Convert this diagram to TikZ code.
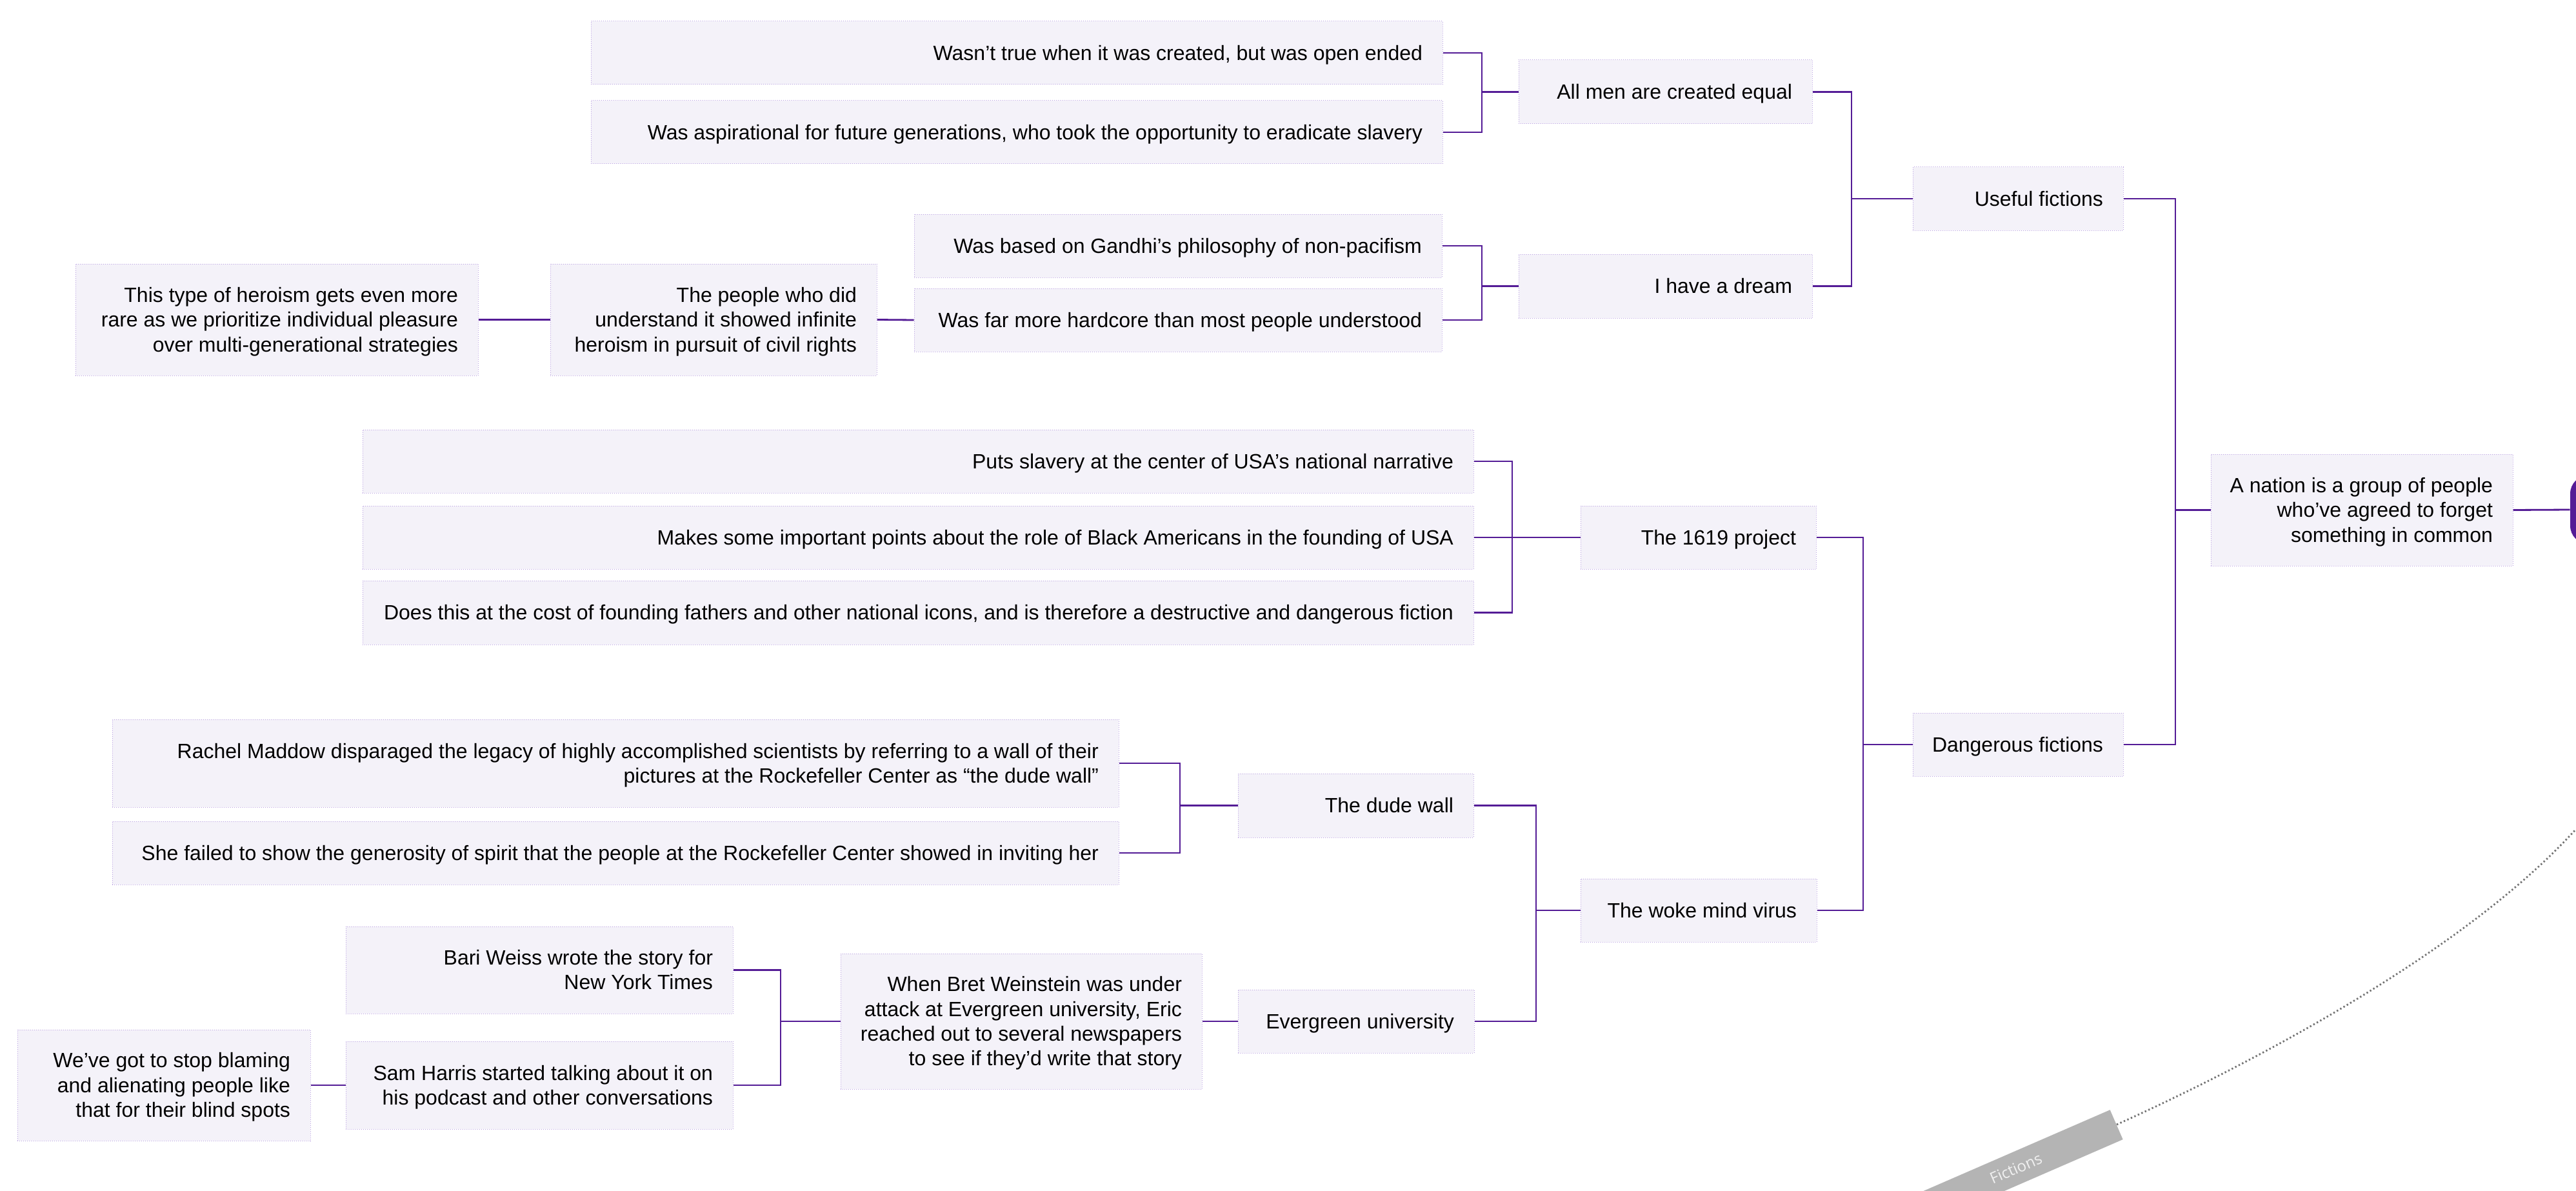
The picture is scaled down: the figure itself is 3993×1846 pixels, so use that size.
\documentclass[tikz,border=0pt]{standalone}
\usepackage{fontspec}
\setmainfont{Liberation Sans}
\newfontfamily\ficfont{Open Sans}
\usetikzlibrary{calc}
\definecolor{purp}{RGB}{84,28,150}
\definecolor{boxfill}{RGB}{244,242,249}
\definecolor{boxline}{RGB}{185,160,225}
\definecolor{dotgray}{RGB}{115,115,115}
\definecolor{bargray}{RGB}{180,180,180}
\tikzset{
  bx/.style={draw=boxline, densely dotted, line width=0.5pt, fill=boxfill, inner sep=0pt,
    font=\fontsize{16pt}{19.2pt}\selectfont, text=black},
  conn/.style={draw=purp, line width=1.4pt},
  dotline/.style={draw=dotgray, line width=1.4pt, dash pattern=on 1.2pt off 1.8pt},
}
\newcommand\bxnode[6]{%
  \pgfmathsetmacro\bw{(#4-#2)*0.5}%
  \pgfmathsetmacro\bh{(#5-#3)*0.5}%
  \pgfmathsetmacro\tw{(#4-#2-62)*0.5}%
  \node[bx, minimum width=\bw pt, minimum height=\bh pt] (#1) at ({(#2+#4)/2},{(#3+#5)/2})
    {\makebox[\tw pt][r]{\raisebox{-1.8pt}[\height][\depth]{\begin{tabular}{@{}r@{}}#6\end{tabular}}}};%
}
\begin{document}
\begin{tikzpicture}[x=0.5pt,y=-0.5pt]
\useasboundingbox (0,0) rectangle (3993,1846);
\fill[white] (0,0) rectangle (3993,1846);
\clip (0,0) rectangle (3993,1846);

% central topic (mostly off canvas)
\node[fill=purp, rounded corners=14pt, minimum width=116pt, minimum height=53pt, inner sep=0pt] (central) at (4100,790) {};

% boxes
\bxnode{wasnt}{916}{33}{2236}{131}{Wasn’t true when it was created, but was open ended}
\bxnode{aspir}{916}{156}{2236}{254}{Was aspirational for future generations, who took the opportunity to eradicate slavery}
\bxnode{allmen}{2354}{93}{2809}{192}{All men are created equal}
\bxnode{gandhi}{1417}{332}{2235}{430}{Was based on Gandhi’s philosophy of non-pacifism}
\bxnode{hardcore}{1417}{447}{2235}{545}{Was far more hardcore than most people understood}
\bxnode{dream}{2354}{394}{2809}{493}{I have a dream}
\bxnode{people}{853}{409}{1359}{582}{The people who did\\understand it showed infinite\\heroism in pursuit of civil rights}
\bxnode{thistype}{117}{409}{741}{582}{This type of heroism gets even more\\rare as we prioritize individual pleasure\\over multi-generational strategies}
\bxnode{useful}{2965}{259}{3291}{357}{Useful fictions}
\bxnode{nation}{3427}{704}{3895}{877}{A nation is a group of people\\who’ve agreed to forget\\something in common}
\bxnode{puts}{562}{666}{2284}{764}{Puts slavery at the center of USA’s national narrative}
\bxnode{makes}{562}{784}{2284}{882}{Makes some important points about the role of Black Americans in the founding of USA}
\bxnode{does}{562}{900}{2284}{999}{Does this at the cost of founding fathers and other national icons, and is therefore a destructive and dangerous fiction}
\bxnode{p1619}{2450}{784}{2815}{882}{The 1619 project}
\bxnode{danger}{2965}{1105}{3291}{1203}{Dangerous fictions}
\bxnode{rachel}{174}{1115}{1734}{1251}{Rachel Maddow disparaged the legacy of highly accomplished scientists by referring to a wall of their\\pictures at the Rockefeller Center as “the dude wall”}
\bxnode{shefailed}{174}{1273}{1734}{1371}{She failed to show the generosity of spirit that the people at the Rockefeller Center showed in inviting her}
\bxnode{dude}{1919}{1199}{2284}{1298}{The dude wall}
\bxnode{woke}{2450}{1362}{2816}{1460}{The woke mind virus}
\bxnode{evergreen}{1919}{1534}{2285}{1632}{Evergreen university}
\bxnode{bret}{1303}{1478}{1863}{1688}{When Bret Weinstein was under\\attack at Evergreen university, Eric\\reached out to several newspapers\\to see if they’d write that story}
\bxnode{bari}{536}{1436}{1136}{1571}{Bari Weiss wrote the story for\\New York Times}
\bxnode{sam}{536}{1614}{1136}{1750}{Sam Harris started talking about it on\\his podcast and other conversations}
\bxnode{weve}{27}{1596}{481}{1768}{We’ve got to stop blaming\\and alienating people like\\that for their blind spots}

% bracket x positions
\coordinate (bAllmen) at (2297,0);
\coordinate (bDream) at (2297,0);
\coordinate (bUseful) at (2870,0);
\coordinate (b1619) at (2344,0);
\coordinate (bDude) at (1829,0);
\coordinate (bBari) at (1210,0);
\coordinate (bWoke) at (2381,0);
\coordinate (bDanger) at (2888,0);
\coordinate (bNation) at (3372,0);

% connectors
\foreach \c in {wasnt,aspir} \draw[conn] (\c.east) -- (\c.east -| bAllmen) |- (allmen.west);
\foreach \c in {gandhi,hardcore} \draw[conn] (\c.east) -- (\c.east -| bDream) |- (dream.west);
\foreach \c in {allmen,dream} \draw[conn] (\c.east) -- (\c.east -| bUseful) |- (useful.west);
\foreach \c in {puts,makes,does} \draw[conn] (\c.east) -- (\c.east -| b1619) |- (p1619.west);
\foreach \c in {rachel,shefailed} \draw[conn] (\c.east) -- (\c.east -| bDude) |- (dude.west);
\foreach \c in {bari,sam} \draw[conn] (\c.east) -- (\c.east -| bBari) |- (bret.west);
\foreach \c in {dude,evergreen} \draw[conn] (\c.east) -- (\c.east -| bWoke) |- (woke.west);
\foreach \c in {p1619,woke} \draw[conn] (\c.east) -- (\c.east -| bDanger) |- (danger.west);
\foreach \c in {useful,danger} \draw[conn] (\c.east) -- (\c.east -| bNation) |- (nation.west);
\draw[conn] (thistype.east) -- (people.west);
\draw[conn] (people.east) -- (hardcore.west);
\draw[conn] (weve.east) -- (sam.west);
\draw[conn] (bret.east) -- (evergreen.west);
\draw[conn] (nation.east) -- (central.west);

% Fictions bar and dotted curve
\node[fill=bargray, rotate=23.5, anchor=east, minimum width=170pt, minimum height=25pt, inner sep=0pt,
  text=white!94!black, font=\ficfont\fontsize{12pt}{14pt}\selectfont] (fic) at (3281,1743) {Fictions};
\coordinate (dotend) at (3993,1285);
\draw[dotline] (fic.east) .. controls (3520,1635) and (3830,1465) .. (dotend);
\end{tikzpicture}
\end{document}
